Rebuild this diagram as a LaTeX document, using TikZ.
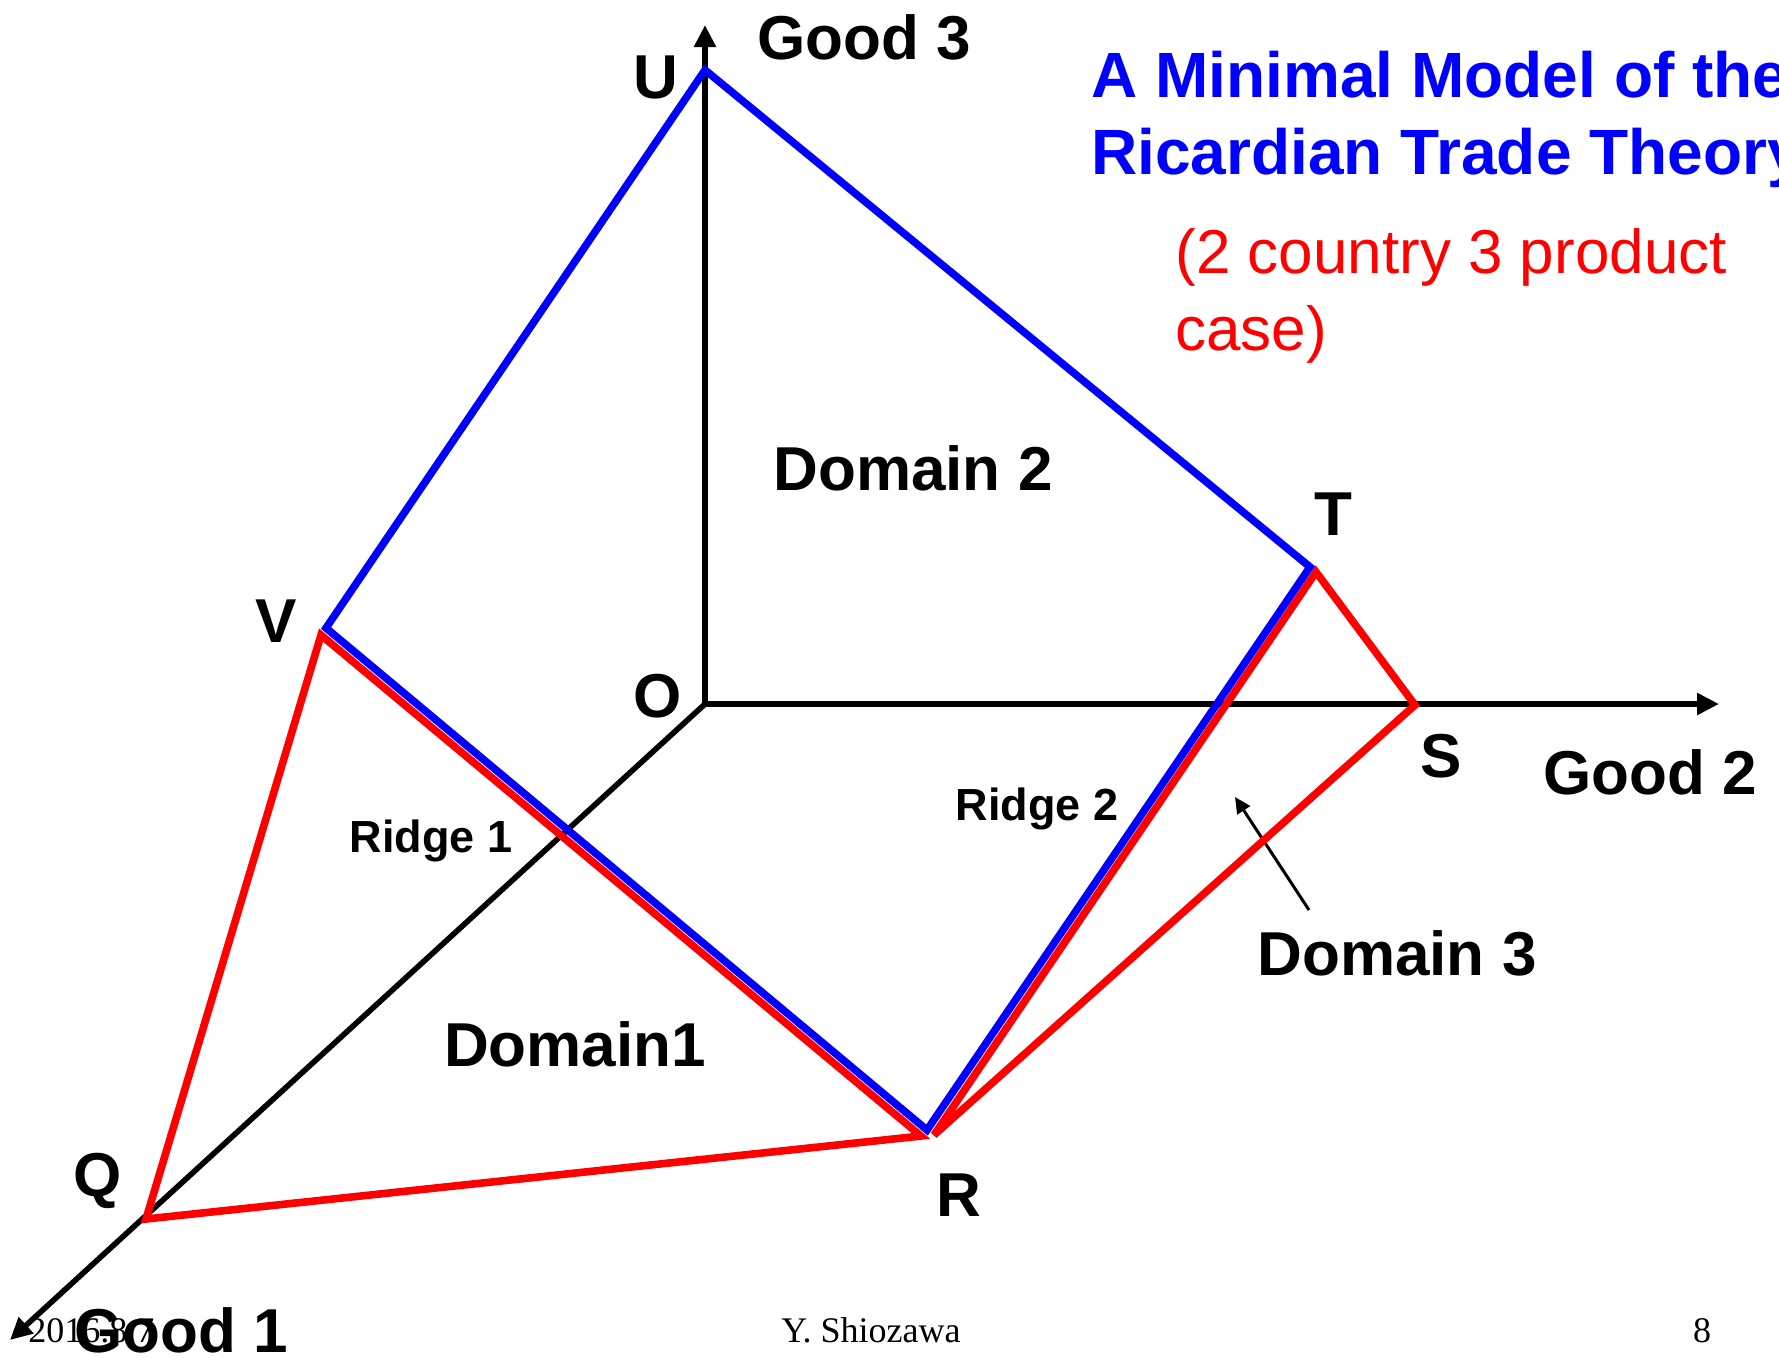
\documentclass[tikz,border=0pt]{standalone}
\usepackage{fontspec}
\setmainfont{Liberation Sans}
\newfontfamily\footfont{Liberation Serif}
\usetikzlibrary{arrows.meta}
\definecolor{pblue}{RGB}{0,0,255}
\definecolor{pred}{RGB}{255,0,0}
\begin{document}
\begin{tikzpicture}[x=0.5pt,y=-0.5pt,
  axis/.style={line width=2.8pt, -{Triangle[length=11pt,width=10.5pt]}},
  pointer/.style={line width=1.5pt, -{Triangle[length=8pt,width=7.5pt]}},
  blueline/.style={draw=pblue, line width=3.8pt, line join=miter},
  redline/.style={draw=pred, line width=3.8pt, line join=miter, miter limit=3},
  big/.style={font=\fontsize{31}{37}\selectfont\bfseries, inner sep=0pt, anchor=base},
  ridge/.style={font=\fontsize{22.5}{27}\selectfont\bfseries, inner sep=0pt, anchor=base},
  titletext/.style={font=\fontsize{32}{38}\selectfont\bfseries, text=pblue, inner sep=0pt, anchor=base west},
  subtext/.style={font=\fontsize{31}{37}\selectfont, text=pred, inner sep=0pt, anchor=base west},
  foot/.style={font=\footfont\fontsize{18}{21}\selectfont, inner sep=0pt, anchor=base}
]
\useasboundingbox (0,0) rectangle (1779,1357);
\clip (0,0) rectangle (1779,1357);

% points
\coordinate (O) at (705,704);
\coordinate (g3) at (705,25);
\coordinate (g2) at (1719,704);
\coordinate (g1) at (10,1340);
\coordinate (V) at (326,628);
\coordinate (U) at (705,70);
\coordinate (T) at (1310,567);
\coordinate (R) at (927,1130);
\coordinate (Q) at (146,1219);
\coordinate (Vr) at (321,635);
\coordinate (Rr) at (921,1136);
\coordinate (Rs) at (934,1135);
\coordinate (Tr) at (1316,572);
\coordinate (S) at (1415,705);
\coordinate (ptail) at (1309,910);
\coordinate (phead) at (1235,797);

% footer
\node[foot, anchor=base west] (date) at (28,1342) {2016.8.7};
\node[foot] (author) at (871,1342) {Y. Shiozawa};
\node[foot] (page) at (1702,1342) {8};

% axes
\draw[axis] (O) -- (g3);
\draw[axis] (O) -- (g2);
\draw[axis] (O) -- (g1);

% pointer for domain 3
\draw[pointer] (ptail) -- (phead);

% red triangles
\draw[redline] (Q) -- (Vr) -- (Rr) -- cycle;
\draw[redline] (Rs) -- (Tr) -- (S) -- cycle;

% blue quadrilateral
\draw[blueline] (V) -- (U) -- (T) -- (R) -- cycle;

% labels
\node[big] (lg3) at (864,59) {Good 3};
\node[big] (lU) at (656,98) {U};
\node[big] (lV) at (276,642) {V};
\node[big] (lO) at (658,717) {O};
\node[big] (lT) at (1333,535) {T};
\node[big] (lS) at (1441,777) {S};
\node[big] (lg2) at (1650,794) {Good 2};
\node[big] (lQ) at (98,1196) {Q};
\node[big] (lR) at (959,1216) {R};
\node[big] (lg1) at (181,1352) {Good 1};
\node[big] (d2) at (913,490) {Domain 2};
\node[big] (d1) at (575,1066) {Domain1};
\node[big] (d3) at (1397,975) {Domain 3};
\node[ridge] (r1) at (431,852) {Ridge 1};
\node[ridge] (r2) at (1037,820) {Ridge 2};

% title
\node[titletext] (t1) at (1091,97) {A Minimal Model of the};
\node[titletext] (t2) at (1091,174) {Ricardian Trade Theory};
\node[subtext] (s1) at (1175,273) {(2 country 3 product};
\node[subtext] (s2) at (1175,350) {case)};
\end{tikzpicture}
\end{document}
